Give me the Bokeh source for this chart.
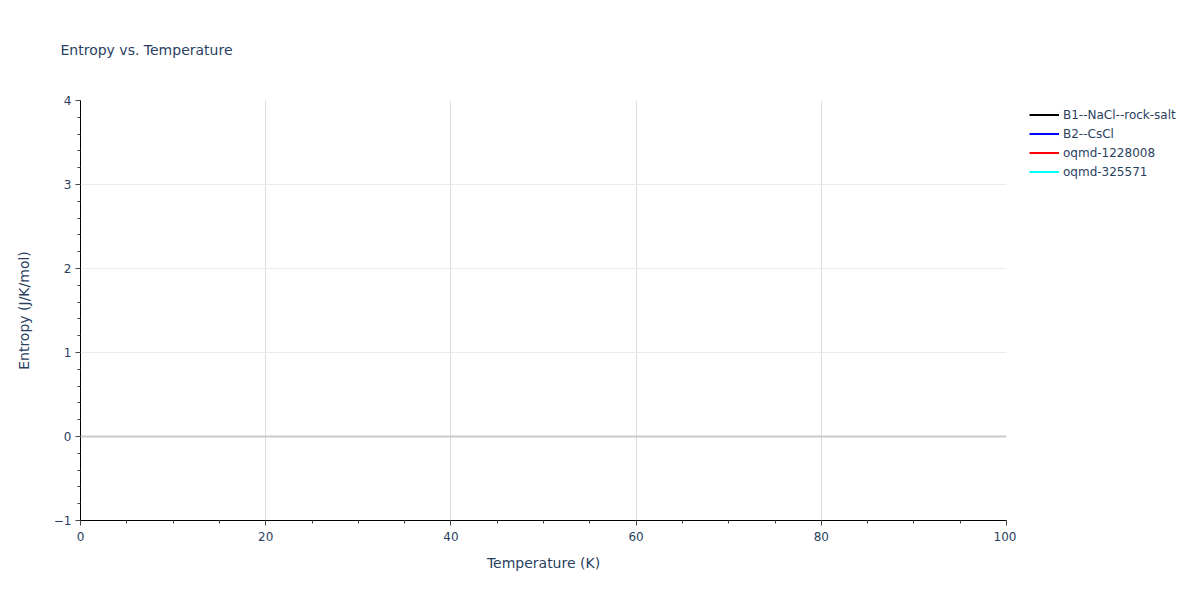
from bokeh.plotting import figure
from bokeh.layouts import row
from bokeh.models import (Range1d, Legend, LegendItem, Span, SingleIntervalTicker,
                          ColumnDataSource)
from bokeh.embed import file_html
from bokeh.resources import INLINE

# ---- data (no visible curves in the reference: every series is empty) ----
series_names = ["B1--NaCl--rock-salt", "B2--CsCl", "oqmd-1228008", "oqmd-325571"]
series_colors = ["black", "blue", "red", "cyan"]
temperature_b1 = []
entropy_b1 = []
temperature_b2 = []
entropy_b2 = []
temperature_oqmd_1228008 = []
entropy_oqmd_1228008 = []
temperature_oqmd_325571 = []
entropy_oqmd_325571 = []

FONT = "DejaVu Sans"
TXT = "#2a3f5f"

plot = figure(width=1016, height=584, output_backend="svg", toolbar_location=None,
              x_range=Range1d(0, 100), y_range=Range1d(-1, 4),
              min_border_left=80, min_border_right=10, min_border_top=99,
              min_border_bottom=64, title="Entropy vs. Temperature")
plot.outline_line_color = None
plot.background_fill_color = "white"

plot.title.text_font = FONT
plot.title.text_font_size = "14px"
plot.title.text_font_style = "normal"
plot.title.text_color = TXT
plot.title.offset = -20
plot.title.vertical_align = "top"
plot.title.standoff = 82

xs = [temperature_b1, temperature_b2, temperature_oqmd_1228008, temperature_oqmd_325571]
ys = [entropy_b1, entropy_b2, entropy_oqmd_1228008, entropy_oqmd_325571]
sources = []
for x, y in zip(xs, ys):
    # empty series have nothing to draw; a NaN placeholder keeps the legend swatch
    sources.append(ColumnDataSource(data=dict(
        x=x if len(x) else [float("nan")],
        y=y if len(y) else [float("nan")])))

for src, color in zip(sources, series_colors):
    plot.line(x="x", y="y", source=src, line_color=color, line_width=2)

# axes
plot.xaxis.ticker = SingleIntervalTicker(interval=20, num_minor_ticks=4)
plot.yaxis.ticker = SingleIntervalTicker(interval=1, num_minor_ticks=5)
for ax in (plot.xaxis, plot.yaxis):
    ax.axis_line_color = "black"
    ax.axis_line_width = 1
    ax.major_tick_line_color = "#444444"
    ax.minor_tick_line_color = "#444444"
    ax.major_tick_out = 5
    ax.major_tick_in = 0
    ax.minor_tick_out = 3
    ax.minor_tick_in = 0
    ax.major_label_text_font = FONT
    ax.major_label_text_font_size = "12px"
    ax.major_label_text_color = TXT
    ax.axis_label_text_font = FONT
    ax.axis_label_text_font_size = "14px"
    ax.axis_label_text_font_style = "normal"
    ax.axis_label_text_color = TXT
plot.xaxis.axis_label = "Temperature (K)"
plot.yaxis.axis_label = "Entropy (J/K/mol)"
plot.xaxis.axis_label_standoff = 11
plot.yaxis.axis_label_standoff = 19
plot.xaxis.major_label_standoff = 6
plot.yaxis.major_label_standoff = 4

plot.xgrid.grid_line_color = "#dddddd"
plot.ygrid.grid_line_color = "#ebebeb"

zero = Span(location=0, dimension="width", line_color="#cccccc", line_width=2)
plot.add_layout(zero)

# legend panel to the right of the plot
leg_fig = figure(width=168, height=584, output_backend="svg", toolbar_location=None,
                 x_range=Range1d(0, 1), y_range=Range1d(0, 1),
                 x_axis_type=None, y_axis_type=None, min_border=0)
leg_fig.outline_line_color = None
for g in leg_fig.grid:
    g.visible = False
items = []
for name, src, color in zip(series_names, sources, series_colors):
    r = leg_fig.line(x="x", y="y", source=src, line_color=color, line_width=2)
    items.append(LegendItem(label=name, renderers=[r]))

legend = Legend(items=items, location=(13, 339), orientation="vertical")
legend.border_line_color = None
legend.background_fill_alpha = 0
legend.label_text_font = FONT
legend.label_text_font_size = "12px"
legend.label_text_color = TXT
legend.glyph_width = 30
legend.glyph_height = 19
legend.label_height = 19
legend.label_standoff = 4
legend.spacing = 0
legend.padding = 5
legend.margin = 0
leg_fig.add_layout(legend, "center")

p = row(plot, leg_fig)
open("out.html", "w").write(file_html(p, INLINE))
